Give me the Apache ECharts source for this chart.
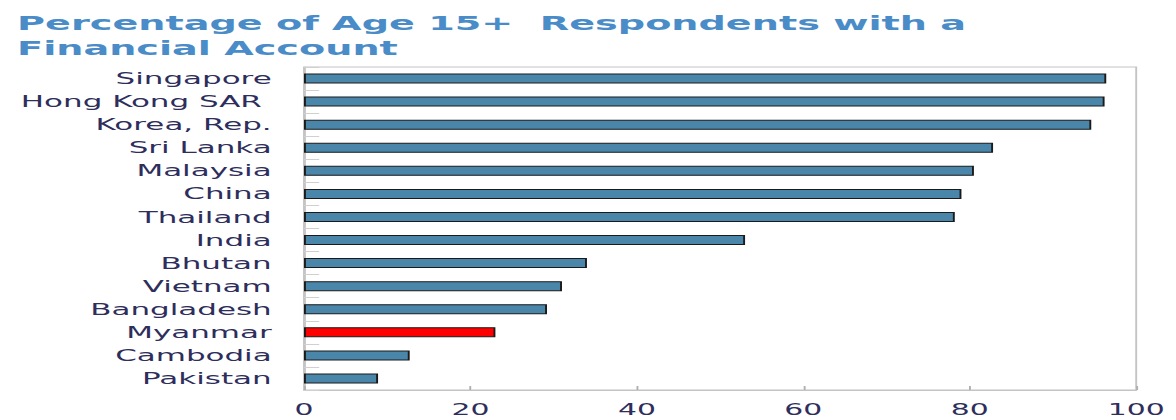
<!DOCTYPE html>
<html>
<head>
<meta charset="utf-8">
<script src="https://cdn.jsdelivr.net/npm/echarts@6/dist/echarts.min.js"></script>
<style>
  html, body { margin: 0; padding: 0; background: #ffffff; overflow: hidden; }
  #wrap { width: 1176px; height: 420px; overflow: hidden; }
  #chart { width: 619px; height: 420px; transform: scaleX(1.9); transform-origin: 0 0; }
</style>
</head>
<body>
<div id="wrap"><div id="chart"></div></div>
<script>
const titleText = 'Percentage of Age 15+  Respondents with a\nFinancial Account';
const countries = ['Singapore', 'Hong Kong SAR ', 'Korea, Rep.', 'Sri Lanka', 'Malaysia', 'China', 'Thailand', 'India', 'Bhutan', 'Vietnam', 'Bangladesh', 'Myanmar', 'Cambodia', 'Pakistan'];
const accountPct = [96.4, 96.2, 94.6, 82.8, 80.5, 79.0, 78.2, 53.0, 34.0, 31.0, 29.2, 23.0, 12.7, 8.9];
const highlighted = ['Myanmar'];
const xTicks = [0, 20, 40, 60, 80, 100];

const labelColor = '#2e2e5c';
const chart = echarts.init(document.getElementById('chart'), null, { renderer: 'svg' });
chart.setOption({
  animation: false,
  backgroundColor: '#ffffff',
  title: {
    text: titleText,
    left: 4,
    top: 6,
    textStyle: {
      fontFamily: 'DejaVu Sans',
      fontWeight: 'bold',
      fontSize: 20.1,
      lineHeight: 25,
      color: '#4a8cc8'
    }
  },
  grid: {
    left: 160,
    right: 21,
    top: 67,
    bottom: 30,
    show: true,
    borderColor: '#c4c4c4',
    borderWidth: 1,
    backgroundColor: '#ffffff'
  },
  xAxis: {
    type: 'value',
    min: xTicks[0],
    max: xTicks[xTicks.length - 1],
    interval: 20,
    splitLine: { show: false },
    axisLine: { show: true, lineStyle: { color: '#c4c4c4', width: 1 } },
    axisTick: { show: true, inside: true, length: 4, lineStyle: { color: '#b0b0b0' } },
    axisLabel: {
      margin: 12,
      fontFamily: 'DejaVu Sans',
      fontSize: 15.7,
      color: labelColor,
      showMinLabel: true,
      showMaxLabel: true
    }
  },
  yAxis: {
    type: 'category',
    inverse: true,
    data: countries,
    axisLine: { show: true, lineStyle: { color: '#c4c4c4', width: 1 } },
    axisTick: { show: true, inside: true, length: 8, lineStyle: { color: '#d0d0d0' } },
    axisLabel: {
      margin: 17,
      fontFamily: 'DejaVu Sans',
      fontSize: 16.3,
      color: labelColor
    }
  },
  series: [{
    type: 'bar',
    barWidth: 10,
    data: accountPct.map((v, i) => ({
      value: v,
      itemStyle: { color: highlighted.includes(countries[i].trim()) ? '#ff0000' : '#4a86aa' }
    })),
    itemStyle: { borderColor: '#1a1a1a', borderWidth: 1 }
  }]
});
</script>
</body>
</html>
